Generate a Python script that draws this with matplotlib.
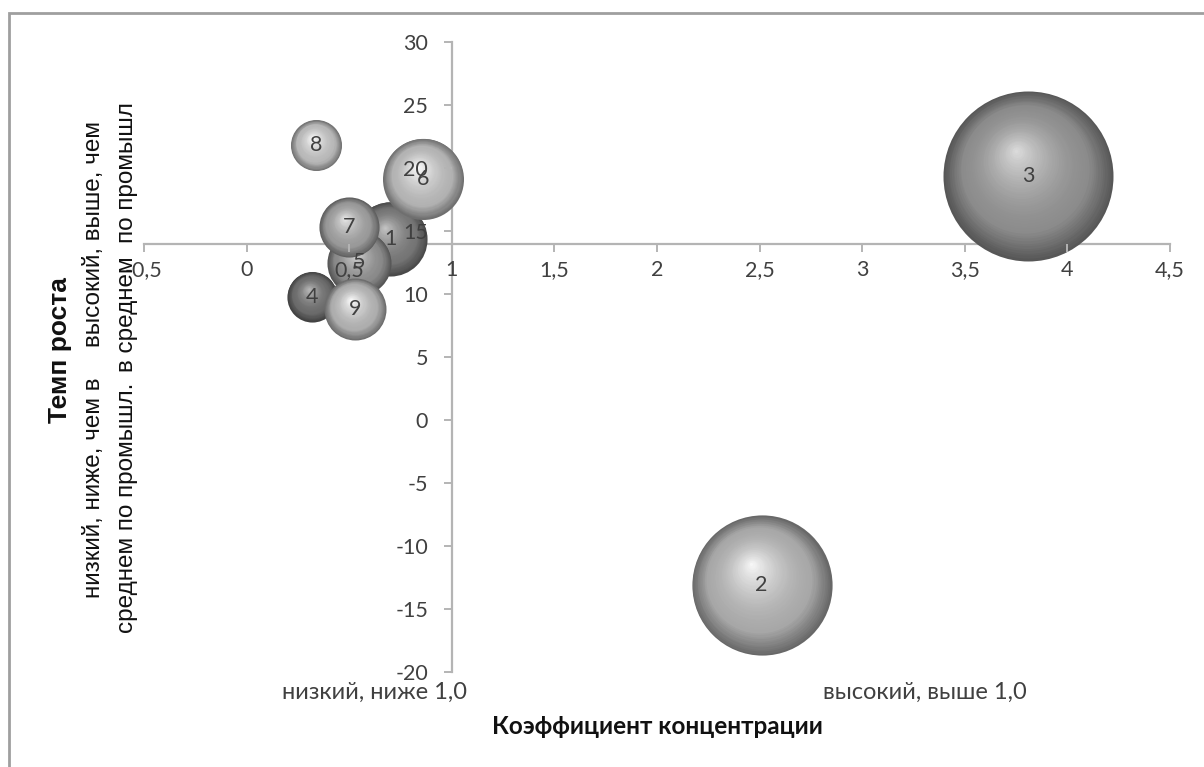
import matplotlib
matplotlib.use("Agg")
import matplotlib.pyplot as plt
import matplotlib.transforms as mtransforms
from matplotlib.patches import Rectangle
import numpy as np

# ---- data ----
labels = ["1", "2", "3", "4", "5", "6", "7", "8", "9"]
conc = [0.70, 2.51, 3.81, 0.32, 0.55, 0.86, 0.50, 0.34, 0.53]      # Коэффициент концентрации
growth = [14.4, -13.1, 19.4, 9.8, 12.5, 19.15, 15.3, 21.8, 8.8]   # Темп роста
bubble = [19.0, 68.0, 100.0, 8.7, 14.2, 22.7, 12.5, 9.0, 13.3]    # bubble size values
shade = [0.46, 0.66, 0.55, 0.42, 0.54, 0.70, 0.60, 0.72, 0.68]    # gray level per bubble

xticks = [-0.5, 0, 0.5, 1, 1.5, 2, 2.5, 3, 3.5, 4, 4.5]
xticklabels = ["-0,5", "0", "0,5", "1", "1,5", "2", "2,5", "3", "3,5", "4", "4,5"]
yticks = [-20, -15, -10, -5, 0, 5, 10, 15, 20, 25, 30]
yticklabels = ["-20", "-15", "-10", "-5", "0", "5", "10", "15", "20", "25", "30"]
x_cross = 1.0
y_cross = 14.0

W, H, DPI = 1204, 767, 100
fig = plt.figure(figsize=(W / DPI, H / DPI), dpi=DPI)
fig.patch.set_facecolor("white")

# outer chart border
fig.add_artist(Rectangle((9 / W, -0.05), 1.2, (H - 13) / H + 0.05, transform=fig.transFigure,
                         fill=False, edgecolor="#9f9f9f", linewidth=2.0))

ax = fig.add_axes([144 / W, 95 / H, 1026 / W, 630 / H])
ax.set_xlim(-0.5, 4.5)
ax.set_ylim(-20, 30)
ax.set_facecolor("none")

axis_col = "#b4b4b4"
for s in ["top", "right"]:
    ax.spines[s].set_visible(False)
ax.spines["left"].set_position(("data", x_cross))
ax.spines["bottom"].set_position(("data", y_cross))
for s in ["left", "bottom"]:
    ax.spines[s].set_color(axis_col)
    ax.spines[s].set_linewidth(1.6)
    ax.spines[s].set_zorder(0.5)
ax.xaxis.set_zorder(30)
ax.yaxis.set_zorder(30)

ax.set_xticks(xticks)
ax.set_xticklabels(xticklabels)
ax.set_yticks(yticks)
ax.set_yticklabels(yticklabels)
tick_font = "Lato"
ax.tick_params(axis="x", direction="out", length=6, width=1.4, color=axis_col,
               labelsize=15.5, labelcolor="#404040", pad=6)
ax.tick_params(axis="y", direction="out", length=6, width=1.4, color=axis_col,
               labelsize=15.5, labelcolor="#404040", pad=11)
for t in ax.get_xticklabels() + ax.get_yticklabels():
    t.set_fontfamily(tick_font)

# bubble radii in pixels: area proportional to bubble value, largest diameter ~170 px
max_r_px = 85.0
bmax = max(bubble)


def draw_sphere(x, y, r_px, g, z):
    r_pt = r_px * 72.0 / DPI
    hx, hy = -0.15 * r_pt, 0.30 * r_pt   # highlight offset (points)
    n = 45
    for k in range(n):
        t = k / n
        rr = r_pt * (1 - t)
        if rr <= 0.5:
            break
        dx, dy = hx * t, hy * t
        # colour profile: dark rim -> base -> bright highlight
        if t < 0.25:
            c = g * (0.62 + 0.38 * (t / 0.25))
        else:
            u = (t - 0.25) / 0.75
            c = g + (min(1.0, g + 0.32) - g) * u ** 1.6
        c = min(max(c, 0), 1)
        tr = ax.transData + mtransforms.ScaledTranslation(dx / 72.0, dy / 72.0, fig.dpi_scale_trans)
        ax.scatter([x], [y], s=(2 * rr) ** 2, color=(c, c, c), linewidths=0,
                   transform=tr, zorder=z + k * 0.001)


for i, (x, y, b, g) in enumerate(zip(conc, growth, bubble, shade)):
    r_px = max_r_px * np.sqrt(b / bmax)
    draw_sphere(x, y, r_px, g, 1 + i * 0.1)

for i, (x, y, lab) in enumerate(zip(conc, growth, labels)):
    ax.text(x, y, lab, ha="center", va="center", fontsize=15.5, color="#404040",
            family=tick_font, zorder=20)

# axis titles and category captions
fig.text(374 / W, 1 - 692 / H, "низкий, ниже 1,0", ha="center", va="center",
         fontsize=17, color="#404040", family=tick_font)
fig.text(925 / W, 1 - 692 / H, "высокий, выше 1,0", ha="center", va="center",
         fontsize=17, color="#404040", family=tick_font)
fig.text(657 / W, 1 - 726 / H, "Коэффициент концентрации", ha="center", va="center",
         fontsize=17.5, fontweight="bold", color="#111111", family=tick_font)

yl_font = "Liberation Sans"
fig.text(60 / W, 1 - 350 / H, "Темп роста", rotation=90, ha="center", va="center",
         fontsize=19, fontweight="bold", color="#111111", family=yl_font)
fig.text(94 / W, 1 - 598 / H, "низкий, ниже, чем в", rotation=90, ha="center", va="bottom",
         fontsize=17.5, color="#111111", family=yl_font)
fig.text(94 / W, 1 - 347 / H, "высокий, выше, чем", rotation=90, ha="center", va="bottom",
         fontsize=17.5, color="#111111", family=yl_font)
fig.text(127 / W, 1 - 633 / H, "среднем по промышл.", rotation=90, ha="center", va="bottom",
         fontsize=17.5, color="#111111", family=yl_font)
fig.text(127 / W, 1 - 372 / H, "в среднем  по промышл", rotation=90, ha="center", va="bottom",
         fontsize=17.5, color="#111111", family=yl_font)

fig.savefig("out.png", dpi=DPI, facecolor="white")
